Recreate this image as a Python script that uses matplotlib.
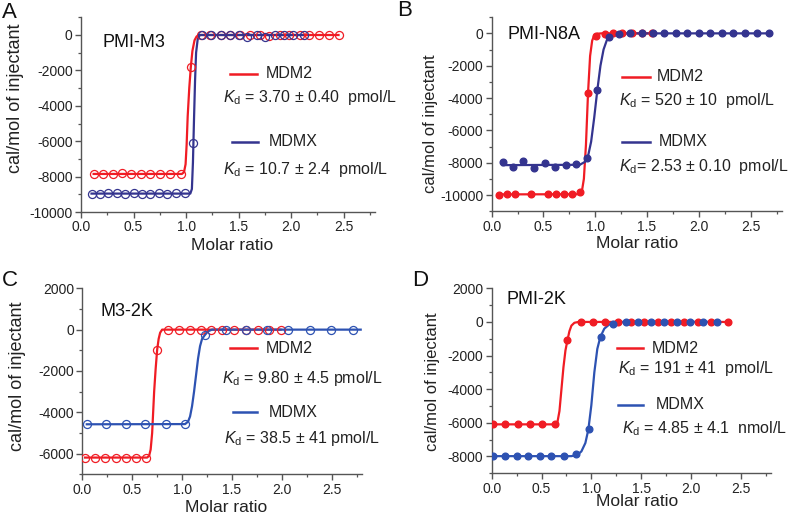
import matplotlib
matplotlib.use("Agg")
import matplotlib.pyplot as plt
from matplotlib.lines import Line2D
from matplotlib.ticker import MultipleLocator

plt.rcParams['font.family'] = ['Liberation Sans', 'DejaVu Sans']
plt.rcParams['axes.unicode_minus'] = False
plt.rcParams['mathtext.fontset'] = 'custom'
plt.rcParams['mathtext.rm'] = 'Liberation Sans'
plt.rcParams['mathtext.it'] = 'Liberation Sans:italic'

# ---- data ----
# A: PMI-M3 (open circles)
a_mdm2_x = [0.12, 0.21, 0.30, 0.39, 0.48, 0.57, 0.66, 0.75, 0.85, 0.95, 1.045,
            1.14, 1.23, 1.33, 1.42, 1.51, 1.61, 1.70, 1.79, 1.89, 1.98, 2.08, 2.17, 2.26, 2.36, 2.45]
a_mdm2_y = [-7880, -7850, -7870, -7820, -7860, -7830, -7850, -7860, -7860, -7850, -1800,
            0, 0, 0, -20, 0, 0, 0, -40, 0, -20, 0, 0, 0, 0, 0]
a_mdmx_x = [0.10, 0.18, 0.26, 0.34, 0.42, 0.50, 0.58, 0.66, 0.74, 0.82, 0.90, 0.99, 1.07,
            1.15, 1.24, 1.33, 1.42, 1.50, 1.58, 1.67, 1.75, 1.85, 1.93, 2.02, 2.12]
a_mdmx_y = [-8980, -8960, -8940, -8950, -8960, -8950, -8960, -8960, -8950, -8960, -8950, -8950, -6090,
            0, 0, 0, 0, 0, -100, 0, -130, 0, 0, 0, 0]
a_mdm2_fit_x = [0.12, 0.96, 0.98, 0.995, 1.005, 1.015, 1.03, 1.045, 1.06, 1.08, 1.10, 1.13, 2.45]
a_mdm2_fit_y = [-7850, -7850, -7750, -7300, -6200, -4600, -3000, -1800, -900, -300, -80, 0, 0]
a_mdmx_fit_x = [0.10, 1.04, 1.055, 1.065, 1.075, 1.085, 1.095, 1.11, 1.13, 2.12]
a_mdmx_fit_y = [-8960, -8960, -8700, -7200, -4800, -2600, -1000, -250, 0, 0]

# B: PMI-N8A (filled circles)
b_mdm2_x = [0.07, 0.15, 0.225, 0.38, 0.54, 0.62, 0.70, 0.78, 0.85, 0.93, 1.01,
            1.095, 1.175, 1.26, 1.35, 1.45, 1.55]
b_mdm2_y = [-9970, -9960, -9960, -9960, -9960, -9960, -9950, -9930, -9800, -3710, -170,
            -20, 0, 0, 0, 0, 0]
b_mdmx_x = [0.106, 0.21, 0.305, 0.41, 0.51, 0.61, 0.715, 0.815, 0.92, 1.02, 1.13, 1.23, 1.34,
            1.45, 1.555, 1.665, 1.78, 1.885, 2.0, 2.11, 2.22, 2.33, 2.45, 2.56, 2.68]
b_mdmx_y = [-7940, -8290, -7900, -8350, -8000, -8250, -8150, -8080, -7700, -3510, -220, -30, 0,
            0, 0, 0, 0, 0, 0, 0, 0, 0, 0, 0, 0]
b_mdm2_fit_x = [0.07, 0.84, 0.87, 0.89, 0.91, 0.93, 0.95, 0.97, 0.99, 1.02, 1.06, 1.55]
b_mdm2_fit_y = [-9960, -9950, -9800, -9000, -6900, -3700, -1400, -450, -120, -20, 0, 0]
b_mdmx_fit_x = [0.106, 0.85, 0.90, 0.93, 0.96, 0.99, 1.02, 1.05, 1.08, 1.11, 1.15, 1.20, 1.25, 2.68]
b_mdmx_fit_y = [-8150, -8130, -7950, -7600, -6700, -5200, -3500, -2000, -1000, -450, -150, -40, 0, 0]

# C: M3-2K (open circles)
c_mdm2_x = [0.028, 0.128, 0.227, 0.333, 0.437, 0.537, 0.643, 0.75, 0.86, 0.967, 1.077,
            1.187, 1.293, 1.403, 1.52, 1.643, 1.76, 1.87, 1.987]
c_mdm2_y = [-6200, -6190, -6190, -6190, -6190, -6190, -6190, -980, 0, 0, 0,
            0, 0, 0, 0, 0, 0, 0, 0]
c_mdmx_x = [0.045, 0.237, 0.433, 0.63, 0.834, 1.034, 1.233, 1.437, 1.643, 1.853, 2.063,
            2.277, 2.493, 2.71]
c_mdmx_y = [-4580, -4580, -4580, -4580, -4580, -4580, -280, 0, 0, 0, 0, 0, 0, 0]
c_mdm2_fit_x = [0.028, 0.65, 0.67, 0.685, 0.70, 0.71, 0.72, 0.735, 0.75, 0.765, 0.78, 0.80, 1.987]
c_mdm2_fit_y = [-6190, -6190, -6100, -5800, -5000, -4000, -3000, -1900, -980, -450, -150, 0, 0]
c_mdmx_fit_x = [0.045, 1.03, 1.06, 1.08, 1.10, 1.12, 1.14, 1.16, 1.18, 1.20, 1.23, 1.26, 1.30, 2.79]
c_mdmx_fit_y = [-4580, -4570, -4450, -4200, -3700, -3000, -2200, -1400, -800, -450, -250, -80, 0, 0]

# D: PMI-2K (filled circles)
d_mdm2_x = [0.016, 0.133, 0.26, 0.383, 0.506, 0.633, 0.76, 0.893, 1.016, 1.14, 1.266,
            1.40, 1.533, 1.666, 1.80, 1.933, 2.066, 2.20, 2.37]
d_mdm2_y = [-6090, -6090, -6090, -6090, -6090, -6080, -1090, 0, 0, 0, 0,
            0, 0, 0, 0, 0, 0, 0, 0]
d_mdmx_x = [0.016, 0.133, 0.25, 0.366, 0.483, 0.60, 0.723, 0.85, 0.973, 1.093, 1.216,
            1.35, 1.473, 1.60, 1.733, 1.86, 1.993, 2.123, 2.26]
d_mdmx_y = [-7980, -7980, -7980, -7980, -7980, -7980, -7970, -7850, -6370, -920, -150,
            0, 0, 0, 0, 0, 0, 0, 0]
d_mdm2_fit_x = [0.016, 0.63, 0.66, 0.68, 0.70, 0.72, 0.74, 0.76, 0.78, 0.80, 0.83, 0.87, 2.37]
d_mdm2_fit_y = [-6090, -6090, -5950, -5300, -4000, -2700, -1700, -1090, -550, -220, -50, 0, 0]
d_mdmx_fit_x = [0.016, 0.80, 0.86, 0.90, 0.94, 0.97, 1.00, 1.03, 1.06, 1.09, 1.13, 1.18, 1.25, 1.33, 2.26]
d_mdmx_fit_y = [-7980, -7980, -7900, -7700, -7200, -6400, -4950, -3000, -1600, -900, -400, -150, -40, 0, 0]

titles = ["PMI-M3", "PMI-N8A", "M3-2K", "PMI-2K"]
letters = ["A", "B", "C", "D"]
kd_mdm2 = [r"$K_{\mathrm{d}}$ = 3.70 ± 0.40  pmol/L", r"$K_{\mathrm{d}}$ = 520 ± 10  pmol/L",
           r"$K_{\mathrm{d}}$ = 9.80 ± 4.5 pmol/L", r"$K_{\mathrm{d}}$ = 191 ± 41  pmol/L"]
kd_mdmx = [r"$K_{\mathrm{d}}$ = 10.7 ± 2.4  pmol/L", r"$K_{\mathrm{d}}$= 2.53 ± 0.10  pmol/L",
           r"$K_{\mathrm{d}}$ = 38.5 ± 41 pmol/L", r"$K_{\mathrm{d}}$ = 4.85 ± 4.1  nmol/L"]

W, H = 790, 518
RED = '#F01C24'
BLUE_DARK = '#34348F'
BLUE = '#2D52B2'
AX_COL = '#555555'

fig = plt.figure(figsize=(W / 100, H / 100), dpi=100)
fig.patch.set_facecolor('white')


def fx(x):
    return x / W


def fy(y):
    return 1 - y / H


def box(l, t, r, b):
    return [fx(l), fy(b), (r - l) / W, (b - t) / H]


panels = [
    dict(box=(81, 17.3, 375.3, 212), ylim=(-10000, 1000), yticks=range(-10000, 1, 2000),
         series=[(a_mdm2_x, a_mdm2_y, a_mdm2_fit_x, a_mdm2_fit_y, RED),
                 (a_mdmx_x, a_mdmx_y, a_mdmx_fit_x, a_mdmx_fit_y, BLUE_DARK)],
         filled=False, letter=(9, 12), title=(133.5, 42), ylab=(16, 98, 13), xlab=(232, 245),
         leg=[(230, 257, 74, 262), (231.7, 258.3, 142, 265)], kd=[(222.7, 97.5), (222.7, 169.5)]),
    dict(box=(491.7, 17.2, 781.7, 211.2), ylim=(-11000, 1000), yticks=range(-10000, 1, 2000),
         series=[(b_mdm2_x, b_mdm2_y, b_mdm2_fit_x, b_mdm2_fit_y, RED),
                 (b_mdmx_x, b_mdmx_y, b_mdmx_fit_x, b_mdmx_fit_y, BLUE_DARK)],
         filled=True, letter=(405, 11), title=(544, 34.5), ylab=(431, 124, 12), xlab=(637.5, 243),
         leg=[(621.7, 650, 76.7, 653), (621.7, 650, 141.7, 655)], kd=[(619, 100), (619, 167)]),
    dict(box=(82.3, 288.3, 361.7, 474.3), ylim=(-7000, 2000), yticks=range(-6000, 2001, 2000),
         series=[(c_mdm2_x, c_mdm2_y, c_mdm2_fit_x, c_mdm2_fit_y, RED),
                 (c_mdmx_x, c_mdmx_y, c_mdmx_fit_x, c_mdmx_fit_y, BLUE)],
         filled=False, letter=(10, 281), title=(126.7, 311.5), ylab=(17.5, 376, 13), xlab=(226, 507),
         leg=[(230, 256.7, 348.3, 261.7), (233, 256.7, 412.3, 265)], kd=[(221.7, 378), (224, 438)]),
    dict(box=(491.7, 288.3, 770.7, 473.3), ylim=(-9000, 2000), yticks=range(-8000, 2001, 2000),
         series=[(d_mdm2_x, d_mdm2_y, d_mdm2_fit_x, d_mdm2_fit_y, RED),
                 (d_mdmx_x, d_mdmx_y, d_mdmx_fit_x, d_mdmx_fit_y, BLUE)],
         filled=True, letter=(420, 280), title=(536.7, 300), ylab=(432, 382, 12), xlab=(637.5, 502),
         leg=[(616.7, 643.3, 348.3, 648), (618, 643, 404.7, 652)], kd=[(618, 369), (621.7, 429)]),
]

for i, p in enumerate(panels):
    ax = fig.add_axes(box(*p['box']))
    for xs, ys, fxs, fys, col in p['series']:
        ax.plot(fxs, fys, color=col, lw=1.6, zorder=2)
        if p['filled']:
            ax.plot(xs, ys, 'o', color=col, ms=4.8, zorder=3)
        else:
            ax.plot(xs, ys, 'o', mfc='none', mec=col, mew=0.9, ms=5.8, zorder=3)

    ax.set_xlim(0, 2.8)
    ax.set_ylim(*p['ylim'])
    ax.xaxis.set_major_locator(MultipleLocator(0.5))
    ax.xaxis.set_minor_locator(MultipleLocator(0.25))
    ax.set_yticks(list(p['yticks']))
    ax.yaxis.set_minor_locator(MultipleLocator(1000))
    ax.xaxis.set_major_formatter(matplotlib.ticker.FormatStrFormatter('%.1f'))
    for s in ['top', 'right']:
        ax.spines[s].set_visible(False)
    for s in ['left', 'bottom']:
        ax.spines[s].set_color(AX_COL)
        ax.spines[s].set_linewidth(1.0)
    ax.tick_params(which='major', direction='out', length=4, width=1.0, color=AX_COL,
                   labelsize=10, labelcolor='#222222', pad=2)
    ax.tick_params(which='minor', direction='out', length=2.5, width=0.9, color=AX_COL)
    ax.patch.set_alpha(0)

    ax.set_xlabel("Molar ratio", fontsize=12.5, color='#222222')
    ax.xaxis.set_label_coords(fx(p['xlab'][0]), fy(p['xlab'][1]), transform=fig.transFigure)
    ax.xaxis.label.set_va('center')
    ax.set_ylabel("cal/mol of injectant", fontsize=p['ylab'][2], color='#222222')
    ax.yaxis.set_label_coords(fx(p['ylab'][0]), fy(p['ylab'][1]), transform=fig.transFigure)
    ax.yaxis.label.set_va('center')

    fig.text(fx(p['letter'][0]), fy(p['letter'][1]), letters[i], fontsize=16,
             ha='center', va='center', color='#111111')
    fig.text(fx(p['title'][0]), fy(p['title'][1]), titles[i], fontsize=13,
             ha='center', va='center', color='#111111')

    names = ["MDM2", "MDMX"]
    kds = [kd_mdm2[i], kd_mdmx[i]]
    for j, (x0, x1, yl, xt) in enumerate(p['leg']):
        col = p['series'][j][4]
        fig.add_artist(Line2D([fx(x0), fx(x1)], [fy(yl), fy(yl)], color=col, lw=1.8,
                              transform=fig.transFigure))
        fig.text(fx(xt + 4), fy(yl), names[j], fontsize=11.5, ha='left', va='center',
                 color='#222222')
        fig.text(fx(p['kd'][j][0]), fy(p['kd'][j][1]), kds[j], fontsize=11.5, ha='left',
                 va='center', color='#222222')

fig.savefig("out.png", dpi=100)
